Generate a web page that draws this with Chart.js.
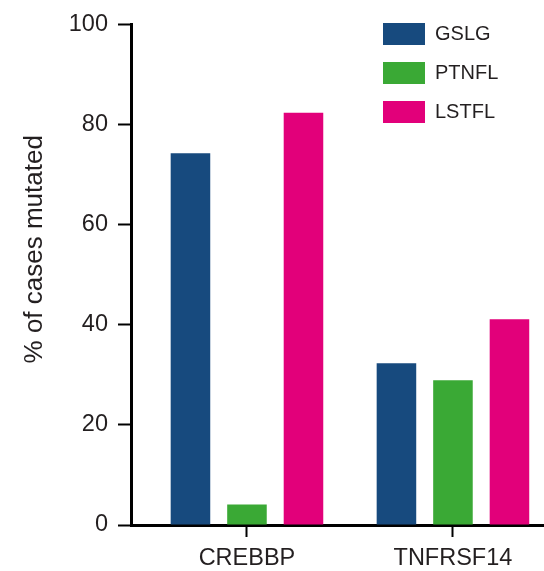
<!DOCTYPE html>
<html>
<head>
<meta charset="utf-8">
<script src="https://cdn.jsdelivr.net/npm/chart.js@4/dist/chart.umd.min.js"></script>
<style>
  html, body { margin: 0; padding: 0; background: #fff; overflow: hidden; }
  #wrap { width: 544px; height: 571px; }
</style>
</head>
<body>
<div id="wrap"><canvas id="chart"></canvas></div>
<script>
const genes = ['CREBBP', 'TNFRSF14'];
const gslg = [74.2, 32.3];
const ptnfl = [4.1, 28.9];
const lstfl = [82.3, 41.1];
const yTicks = [0, 20, 40, 60, 80, 100];

const textColor = '#231f20';

// move the legend into the top right corner of the plot
const legendSpot = {
    id: 'legendSpot',
    afterLayout(chart) {
        chart.legend.left = 366;
        chart.legend.top = 6;
    }
};

function toPoints(values) {
    return values.map((v, i) => ({ x: i, y: v }));
}

new Chart(document.querySelector('#chart').getContext('2d'), {
    type: 'bar',
    data: {
        datasets: [
            { label: 'GSLG', data: toPoints(gslg), backgroundColor: '#174a7e' },
            { label: 'PTNFL', data: toPoints(ptnfl), backgroundColor: '#3aa935' },
            { label: 'LSTFL', data: toPoints(lstfl), backgroundColor: '#e2007a' }
        ]
    },
    options: {
        responsive: true,
        maintainAspectRatio: false,
        animation: false,
        categoryPercentage: 0.823,
        barPercentage: 0.7,
        layout: { padding: { top: 24, right: 0, left: 0, bottom: 0 } },
        plugins: {
            tooltip: { enabled: false },
            legend: {
                position: 'chartArea',
                align: 'start',
                labels: {
                    boxWidth: 42,
                    boxHeight: 22,
                    padding: 17,
                    color: textColor,
                    font: { family: 'Liberation Sans, Arial, sans-serif', size: 20 }
                }
            }
        },
        scales: {
            x: {
                type: 'linear',
                offset: false,
                min: -0.563,
                max: 1.442,
                afterBuildTicks: scale => { scale.ticks = genes.map((g, i) => ({ value: i })); },
                afterFit: scale => { scale.height = 46; },
                border: { color: '#000', width: 3 },
                grid: { offset: false, drawOnChartArea: false, drawTicks: true, tickLength: 12, tickWidth: 2, tickColor: '#000' },
                ticks: {
                    padding: 7,
                    color: textColor,
                    font: { family: 'Liberation Sans, Arial, sans-serif', size: 23.5 },
                    callback: v => genes[v]
                }
            },
            y: {
                min: 0,
                max: 100,
                afterBuildTicks: scale => { scale.ticks = yTicks.map(v => ({ value: v })); },
                afterFit: scale => { scale.width = 131; },
                border: { color: '#000', width: 3 },
                grid: { drawOnChartArea: false, drawTicks: true, tickLength: 13, tickWidth: 2, tickColor: '#000' },
                ticks: {
                    padding: 10,
                    color: textColor,
                    font: { family: 'Liberation Sans, Arial, sans-serif', size: 23.5 }
                },
                title: {
                    display: true,
                    text: '       % of cases mutated',
                    color: textColor,
                    padding: { top: 19, bottom: 0 },
                    font: { family: 'Liberation Sans, Arial, sans-serif', size: 26 }
                }
            }
        }
    },
    plugins: [legendSpot]
});
</script>
</body>
</html>
